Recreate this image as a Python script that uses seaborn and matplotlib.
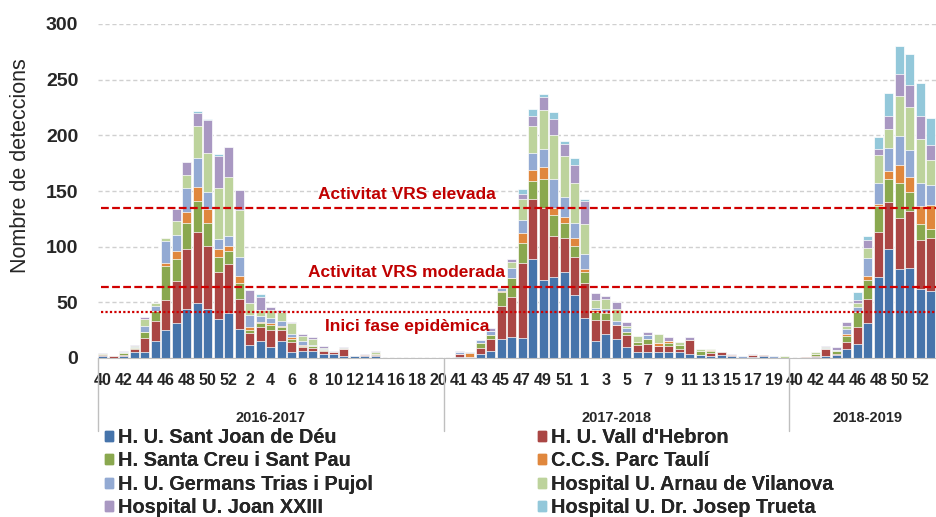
import matplotlib
matplotlib.use('Agg')
import matplotlib.pyplot as plt
import matplotlib.patches as mpatches
import numpy as np
import pandas as pd
import seaborn as sns

# temporades i setmanes (eix de categories de dos nivells)
seasons = ['2016-2017', '2017-2018', '2018-2019']
weeks_s1 = list(range(40, 53)) + list(range(1, 21))
weeks_s2 = list(range(40, 53)) + list(range(1, 21))
weeks_s3 = list(range(40, 53)) + [1]
weeks = weeks_s1 + weeks_s2 + weeks_s3

hospitals = ["H. U. Sant Joan de Déu", "H. U. Vall d'Hebron", "H. Santa Creu i Sant Pau",
             "C.C.S. Parc Taulí", "H. U. Germans Trias i Pujol", "Hospital U. Arnau de Vilanova",
             "Hospital U. Joan XXIII", "Hospital U. Dr. Josep Trueta"]
colors = ['#4674AB', '#AA4644', '#8AA84F', '#E0873D', '#93AAD3', '#BDD39C', '#A998C2', '#93C8DA']

# deteccions setmanals per hospital (llegides del gràfic)
sant_joan = [2, 0, 1.5, 5, 5, 15, 25.5, 31, 44, 49, 44, 35, 40, 26, 11.5, 15.5, 9.5, 15.5, 5.5, 6.5,
             6, 4, 4, 2, 1.5, 1.5, 2, 0, 0, 0, 0, 0, 0,
             0, 1, 0, 4, 6.5, 17, 18.5, 18, 89, 70, 73, 77, 57, 36, 15.5, 22, 17, 9.5, 5.5, 5.5,
             5, 5, 5.5, 4, 3, 1.5, 2.5, 1.5, 0, 1, 1.5, 0, 0,
             0, 0, 1, 2, 2.5, 8, 12.5, 31, 73, 98, 80, 81, 62, 60.5]
vall_hebron = [1, 1.5, 1, 3, 13, 18, 26.5, 38, 54, 64, 57, 42, 44, 27, 11, 12, 16, 9.5, 9, 3.5,
               3, 2, 1, 6, 0, 1.5, 1, 0, 0, 0, 0, 0, 0,
               0, 3, 1.2, 5, 11, 30, 36, 67, 54, 65, 37, 31, 34, 31, 18.5, 12, 13, 11.5, 6.5, 7.5,
               6, 6, 3, 12, 0, 3, 3, 1, 0, 1.5, 1.2, 0, 0,
               0, 1.2, 1, 6, 1.5, 6, 15, 22, 40, 42, 46, 51, 44, 47]
sant_pau = [1, 0, 2, 1, 5, 9, 31, 20, 23, 28, 20, 14, 12, 14, 3, 3.5, 4.5, 3, 3, 1,
            2, 1, 0, 0, 0, 0, 1, 0, 0, 0, 0, 0, 0,
            0, 0, 0, 4.5, 3, 12, 17, 18.5, 16, 26, 18, 13, 9.5, 10, 7.5, 6, 0, 2, 2.5, 4.5,
            0, 2.5, 3, 0, 3, 1.5, 0, 0, 0, 0, 0, 0, 0,
            0, 0, 2, 0, 2.5, 6, 14, 17.5, 23.5, 21, 31, 17, 14, 8]
parc_tauli = [0, 0, 0, 0, 0, 0, 2.5, 7.5, 10, 13, 13, 7, 5, 6.5, 2.5, 1.5, 1.5, 1, 1, 1,
              0, 0, 0, 0, 0, 0, 0, 0, 0, 0, 0, 0, 0,
              0, 0, 3.6, 0, 0, 1, 0, 8.5, 10, 11, 7, 6, 7.5, 3, 1.5, 1, 0, 0, 0, 0,
              2.5, 1.5, 0, 0, 0, 1, 0, 0, 0, 0, 0, 0, 0,
              0, 0, 0, 0, 0, 2, 0, 3, 1.5, 7, 16, 14, 16.5, 22]
germans_trias = [0, 0, 1, 1, 6, 5, 19.5, 14, 22, 26, 15, 9, 9, 17.5, 10.5, 5, 4.5, 4, 3, 3,
                 1, 1, 0, 0, 0, 0, 0, 0, 0, 0, 0, 0, 0,
                 0, 1.5, 0.9, 3, 4, 3, 9, 12, 15, 16, 26, 18, 13, 13, 1.5, 3, 3, 4, 0, 3,
                 0, 0, 0, 0, 0, 0, 0, 0, 1.5, 0, 0, 1.5, 0,
                 0, 0, 0, 1, 1, 4, 4, 16.5, 19, 21, 26, 24, 21, 18]
arnau = [0, 0, 0, 0.5, 6, 2, 3, 13, 11, 28, 35, 46, 53, 42, 10.5, 6, 7, 8.5, 9.5, 5,
         5, 1, 0, 1, 0.5, 0, 1, 0, 0, 0, 0, 0, 0,
         0, 0, 0, 0, 0, 1, 6, 19, 24, 34.5, 39, 36, 36.5, 27, 8, 9, 11, 1.5, 5, 0,
         8, 0, 3, 0, 2, 1.5, 0, 0, 0, 0, 0, 0, 1.5,
         0, 0, 1, 1, 0, 3, 3.5, 9, 25, 17, 36, 38, 39.5, 22.5]
joan_xxiii = [0.5, 0, 1, 1.5, 1.5, 0.5, 0, 10.5, 12, 12.5, 29.5, 28, 26.5, 18, 12, 11.5, 3, 2, 1.5, 1.5,
              2, 2, 1, 1, 0, 1, 1, 0, 0, 0, 0, 0, 0,
              0, 1, 0, 0, 2, 0, 2, 4, 9.5, 11.5, 14.5, 11, 15.5, 21, 6, 3, 6, 3.5, 0, 3,
              0, 4, 0, 2.5, 0, 0, 0, 1, 0, 1, 0, 0, 0,
              0, 0, 0, 1, 2, 3, 3.5, 7, 6, 11.5, 20, 20, 20, 13.5]
trueta = [0, 0, 0, 0, 0, 0, 0, 0, 0, 1.5, 1.5, 2, 0, 0, 0, 2.5, 0, 0, 0, 0,
          0, 0, 0, 0, 0, 0, 0, 0, 0, 0, 0, 0, 0,
          0, 0, 0, 0, 0, 0, 0, 5, 6.5, 3, 6.5, 3, 7, 2, 0, 0, 0, 0, 0, 0,
          0, 0, 0, 0, 0, 0, 0, 0, 0, 0, 0, 0, 0,
          0, 0, 0, 0, 0, 0, 7, 4, 10.5, 20.5, 25, 28, 30, 24]

thresholds = [135, 64, 41]
threshold_labels = ['Activitat VRS elevada', 'Activitat VRS moderada', 'Inici fase epidèmica']

df = pd.DataFrame({'pos': np.arange(len(weeks))})
series = [sant_joan, vall_hebron, sant_pau, parc_tauli, germans_trias, arnau, joan_xxiii, trueta]
for name, vals in zip(hospitals, series):
    df[name] = vals
cum = df[hospitals].cumsum(axis=1)

sns.set_style('white')
plt.rcParams['font.family'] = ['Liberation Sans', 'DejaVu Sans']

fig = plt.figure(figsize=(9.36, 5.17), dpi=100)
ax = fig.add_axes([97.75 / 936, 1 - 358 / 517, 1 - 97.75 / 936, 334 / 517])

# barres apilades: es dibuixen els acumulats de dalt a baix
for name, col in reversed(list(zip(hospitals, colors))):
    sns.barplot(x=df['pos'], y=cum[name], color=col, saturation=1, width=0.86,
                edgecolor='white', linewidth=0.5, errorbar=None, orient='x', ax=ax, zorder=2)

ax.set_xlim(-0.5, 79.5)
ax.set_ylim(0, 300)
ax.set_yticks(range(0, 301, 50))
ax.yaxis.grid(True, color='#D0D0D0', linestyle=(0, (3, 2)), linewidth=1)
ax.set_axisbelow(True)
for s in ['left', 'right', 'top']:
    ax.spines[s].set_visible(False)
ax.spines['bottom'].set_color('#BFBFBF')
ax.set_xlabel('')
ax.set_ylabel('')

ax.set_xticks(range(0, len(weeks), 2))
ax.set_xticklabels([str(w) for w in weeks[::2]])
ax.tick_params(axis='x', length=0, pad=11, labelsize=11.5)
ax.tick_params(axis='y', length=0, pad=14, labelsize=14)
for t in ax.get_xticklabels() + ax.get_yticklabels():
    t.set_fontweight('bold')

# llindars epidèmics
styles = [(0, (3.5, 1.5)), (0, (3.5, 1.5)), (0, (1, 1))]
label_y = [146.5, 76.5, 28.5]
for thr, st, lab, ly in zip(thresholds, styles, threshold_labels, label_y):
    ax.plot([-0.2, 79.5], [thr, thr], color='#D00000', linestyle=st, linewidth=1.6, zorder=3)
    ax.text(29, ly, lab, color='#C00000', fontsize=12.5, fontweight='bold',
            ha='center', va='center', zorder=4)

# separadors i noms de temporada
trans = ax.get_xaxis_transform()
for xb in [-0.5, 32.5, 65.5]:
    ax.plot([xb, xb], [0, -0.219], color='#BFBFBF', linewidth=1, transform=trans, clip_on=False)
for lab, xc in zip(seasons, [16, 49, 73]):
    ax.text(xc, -0.18, lab, transform=trans, ha='center', va='center',
            fontsize=10.5, fontweight='bold')

fig.text(20.5 / 936, 1 - 166 / 517, 'Nombre de deteccions', rotation=90,
         ha='center', va='center', fontsize=15.5)

# llegenda en dues columnes
handles = [mpatches.Patch(color=c) for c in colors]
for k, x0 in enumerate([105 / 936, 538 / 936]):
    idx = [k, k + 2, k + 4, k + 6]
    leg = fig.legend([handles[i] for i in idx], [hospitals[i] for i in idx],
                     loc='upper left', bbox_to_anchor=(x0, 1 - 428 / 517), frameon=False,
                     ncol=1, prop={'weight': 'bold', 'size': 14.3},
                     handlelength=0.42, handleheight=0.42, handletextpad=0.25,
                     labelspacing=0.22, borderpad=0, borderaxespad=0)
    fig.add_artist(leg)

fig.savefig('out.png', dpi=100)
